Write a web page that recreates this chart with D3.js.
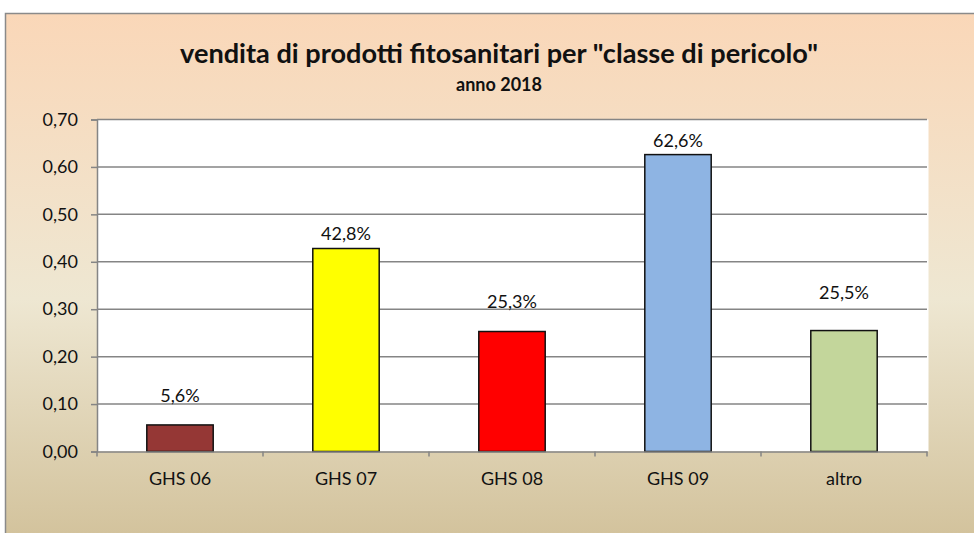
<!DOCTYPE html>
<html>
<head>
<meta charset="utf-8">
<script src="https://cdn.jsdelivr.net/npm/d3@7"></script>
<style>
  body { margin: 0; background: #fff; }
  text { font-family: Lato, "Open Sans", sans-serif; fill: #111; }
</style>
</head>
<body>
<div id="chart-area"></div>
<script>
// data
const categories = ["GHS 06", "GHS 07", "GHS 08", "GHS 09", "altro"]
const values = [0.056, 0.428, 0.253, 0.626, 0.255]
const barColors = ["#953735", "#FFFF00", "#FF0000", "#8EB4E3", "#C3D69B"]
const yTicks = [0, 0.1, 0.2, 0.3, 0.4, 0.5, 0.6, 0.7]
// labels were dragged by hand in the original, gap above the bar top
const labelLift = [23, 9, 24, 8, 32]

const W = 974, H = 533
const PLOT = { LEFT: 97, RIGHT: 927, TOP: 119.5, BOTTOM: 451.5 }

const it = d3.formatLocale({ decimal: ",", thousands: ".", grouping: [3], currency: ["€", ""] })
const fmtAxis = it.format(".2f")
const fmtPct = it.format(".1%")

const svg = d3.select("#chart-area").append("svg")
  .attr("width", W)
  .attr("height", H)

// background gradient of the chart area
const grad = svg.append("defs").append("linearGradient")
  .attr("id", "bg")
  .attr("gradientUnits", "userSpaceOnUse")
  .attr("x1", 0).attr("y1", 13).attr("x2", 0).attr("y2", 533)
grad.append("stop").attr("offset", "0%").attr("stop-color", "#FAD7B8")
grad.append("stop").attr("offset", "55%").attr("stop-color", "#EEE7D2")
grad.append("stop").attr("offset", "100%").attr("stop-color", "#D3C39D")

svg.append("rect")
  .attr("x", 5.5).attr("y", 13.5)
  .attr("width", 1000).attr("height", 560)
  .attr("fill", "url(#bg)")
  .attr("stroke", "#8a8a8a")
  .attr("stroke-width", 1.5)

// Title
svg.append("text")
  .attr("x", 499)
  .attr("y", 63)
  .attr("text-anchor", "middle")
  .attr("textLength", 638)
  .attr("lengthAdjust", "spacingAndGlyphs")
  .style("font-size", "27px")
  .style("font-weight", "bold")
  .text('vendita di prodotti fitosanitari per "classe di pericolo"')

svg.append("text")
  .attr("x", 499)
  .attr("y", 91)
  .attr("text-anchor", "middle")
  .style("font-size", "18px")
  .style("font-weight", "bold")
  .text("anno 2018")

// plot area
svg.append("rect")
  .attr("x", PLOT.LEFT).attr("y", PLOT.TOP)
  .attr("width", PLOT.RIGHT - PLOT.LEFT + 1.5)
  .attr("height", PLOT.BOTTOM - PLOT.TOP)
  .attr("fill", "#fff")

const x = d3.scaleBand()
  .domain(categories)
  .range([PLOT.LEFT, PLOT.RIGHT])
  .paddingInner(0.6)
  .paddingOuter(0.3)

const xCat = d3.scaleBand()
  .domain(categories)
  .range([PLOT.LEFT, PLOT.RIGHT])

const y = d3.scaleLinear()
  .domain([0, 0.7])
  .range([PLOT.BOTTOM, PLOT.TOP])

// gridlines
svg.append("g")
  .selectAll("line")
  .data(yTicks.slice(1))
  .enter().append("line")
    .attr("x1", PLOT.LEFT).attr("x2", PLOT.RIGHT)
    .attr("y1", d => y(d)).attr("y2", d => y(d))
    .attr("stroke", "#858585")
    .attr("stroke-width", 1.5)

// y axis
const yAxisGroup = svg.append("g")
  .attr("transform", `translate(${PLOT.LEFT}, 0)`)
  .call(d3.axisLeft(y).tickValues(yTicks).tickSize(6).tickPadding(13).tickFormat(fmtAxis))
yAxisGroup.select(".domain").attr("stroke", "#858585").attr("stroke-width", 1.5)
yAxisGroup.selectAll(".tick line").attr("stroke", "#858585").attr("stroke-width", 1.5)
yAxisGroup.selectAll("text")
  .style("font-size", "18px")
  .attr("fill", "#111")
  .style("font-family", "Lato, sans-serif")

// bars
svg.append("g")
  .selectAll("rect")
  .data(values)
  .enter().append("rect")
    .attr("x", (d, i) => x(categories[i]))
    .attr("width", x.bandwidth())
    .attr("y", d => y(d))
    .attr("height", d => y(0) - y(d))
    .attr("fill", (d, i) => barColors[i])
    .attr("stroke", "#111")
    .attr("stroke-width", 1.5)

// value labels
svg.append("g")
  .selectAll("text")
  .data(values)
  .enter().append("text")
    .attr("x", (d, i) => x(categories[i]) + x.bandwidth() / 2)
    .attr("y", (d, i) => y(d) - labelLift[i])
    .attr("text-anchor", "middle")
    .style("font-size", "18px")
    .text(d => fmtPct(d))

// x axis
const xAxisGroup = svg.append("g")
  .attr("transform", `translate(0, ${PLOT.BOTTOM})`)
  .call(d3.axisBottom(xCat).tickSize(0).tickSizeOuter(0))
xAxisGroup.select(".domain").attr("stroke", "#858585").attr("stroke-width", 1.5)
xAxisGroup.selectAll("text")
  .attr("y", 33)
  .attr("dy", 0)
  .attr("fill", "#111")
  .style("font-size", "18px")
  .style("font-family", "Lato, sans-serif")

// category boundary ticks
const bounds = categories.map(c => xCat(c)).concat([PLOT.RIGHT])
xAxisGroup.selectAll(".bound")
  .data(bounds)
  .enter().append("line")
    .attr("class", "bound")
    .attr("x1", d => d).attr("x2", d => d)
    .attr("y1", 0).attr("y2", 5)
    .attr("stroke", "#858585")
    .attr("stroke-width", 1.5)
</script>
</body>
</html>
